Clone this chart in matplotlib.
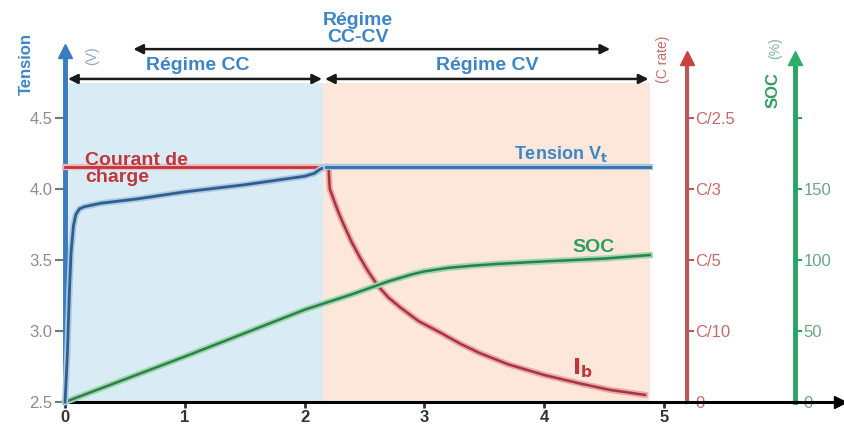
import numpy as np
import matplotlib.pyplot as plt
import matplotlib.patheffects as pe

plt.rcParams['font.family'] = ['Liberation Sans', 'DejaVu Sans']

# data (time axis, curves in "tension" units)
t_volt = [0, 0.02, 0.035, 0.05, 0.07, 0.09, 0.12, 0.16, 0.3, 0.6, 1.0, 1.5, 2.0, 2.08, 2.13, 2.18]
v_volt = [2.5, 2.85, 3.25, 3.55, 3.74, 3.82, 3.86, 3.875, 3.9, 3.93, 3.98, 4.03, 4.09, 4.11, 4.14, 4.155]
t_cv = [2.18, 4.88]
v_cv = [4.155, 4.155]

t_cc = [0, 2.2]
i_cc = [4.155, 4.155]
t_ib = [2.2, 2.205, 2.21, 2.24, 2.28, 2.32, 2.39, 2.46, 2.53, 2.61, 2.7, 2.8, 2.95,
        3.13, 3.3, 3.46, 3.7, 4.0, 4.3, 4.55, 4.84]
i_ib = [4.15, 4.06, 4.0, 3.93, 3.84, 3.76, 3.63, 3.52, 3.42, 3.32, 3.235, 3.165, 3.07,
        2.99, 2.91, 2.845, 2.765, 2.69, 2.63, 2.585, 2.55]

t_soc = [0, 1, 2, 2.4, 2.6, 2.7, 2.8, 2.9, 3.0, 3.2, 3.4, 3.6, 4.0, 4.5, 4.88]
soc = [2.5, 2.82, 3.15, 3.26, 3.32, 3.35, 3.375, 3.40, 3.42, 3.445, 3.46, 3.472, 3.49, 3.51, 3.535]

x_ticks = [0, 1, 2, 3, 4, 5]
v_ticks = [2.5, 3.0, 3.5, 4.0, 4.5]
v_labels = ['2.5', '3.0', '3.5', '4.0', '4.5']
c_labels = ['0', 'C/10', 'C/5', 'C/3', 'C/2.5']
soc_labels = ['0', '50', '100', '150', '']

t_switch = 2.15
t_end = 4.88

blue = '#3b7bbf'
blue_txt = '#3d86c6'
red = '#c0363c'
green = '#2e9e5e'

fig = plt.figure(figsize=(8.44, 4.28), dpi=100)
ax = fig.add_axes([0, 0, 1, 1])
ax.set_xlim(-0.543, 6.502)
ax.set_ylim(2.317, 5.331)

# regime backgrounds
ax.fill_between([0, t_switch], 2.5, 4.75, color='#d9ecf5', lw=0, zorder=0)
ax.fill_between([t_switch, t_end], 2.5, 4.75, color='#fde7da', lw=0, zorder=0)

halo = lambda c: [pe.Stroke(linewidth=4.5, foreground=c), pe.Normal()]
ax.plot(t_cc, i_cc, color=red, lw=2, zorder=3, path_effects=halo('#f0b8b8'))
ax.plot(t_ib, i_ib, color='#a8343c', lw=1.8, zorder=3, path_effects=halo('#e9a9aa'))
ax.plot(t_soc, soc, color='#2b8148', lw=1.8, zorder=3, path_effects=halo('#9fd6b0'))
ax.plot(t_volt, v_volt, color='#2e5e8e', lw=2, zorder=4, path_effects=halo('#a9c9e3'))
ax.plot(t_cv, v_cv, color='#3a6ea8', lw=2, zorder=4, path_effects=halo('#a9c9e3'))

# main axes as spines
for s in ['top', 'right']:
    ax.spines[s].set_visible(False)
ax.spines['left'].set_position(('data', 0))
ax.spines['left'].set_bounds(2.5, 4.95)
ax.spines['left'].set_color(blue)
ax.spines['left'].set_linewidth(3.5)
ax.spines['bottom'].set_position(('data', 2.5))
ax.spines['bottom'].set_bounds(0, 6.44)
ax.spines['bottom'].set_linewidth(2.2)
ax.plot(0, 4.97, '^', color=blue, ms=10, clip_on=False, zorder=5)
ax.plot(6.47, 2.5, '>', color='black', ms=8, clip_on=False, zorder=5)

ax.set_xticks(x_ticks)
ax.set_xticklabels([str(v) for v in x_ticks], fontsize=12, fontweight='bold', color='#333333')
ax.tick_params(axis='x', length=4, width=2, color='#333333', pad=2)
ax.set_yticks(v_ticks)
ax.set_yticklabels(v_labels, fontsize=12, color='#8c8c8c')
ax.tick_params(axis='y', length=7, width=1.5, color='#777777', pad=2)

# C rate axis and SOC axis
sec_c = ax.secondary_yaxis(0.814)
sec_c.spines['right'].set_bounds(2.5, 4.88)
sec_c.spines['right'].set_color('#b55a5a')
sec_c.spines['right'].set_linewidth(3)
sec_c.set_yticks(v_ticks)
sec_c.set_yticklabels(c_labels, fontsize=12, color='#c86a6a')
sec_c.tick_params(axis='y', length=5, width=1.5, color='#b55a5a', pad=1)
ax.plot(5.19, 4.92, '^', color='#c9423f', ms=10, clip_on=False, zorder=5)

sec_s = ax.secondary_yaxis(0.942)
sec_s.spines['right'].set_bounds(2.5, 4.88)
sec_s.spines['right'].set_color('#29a464')
sec_s.spines['right'].set_linewidth(3.5)
sec_s.set_yticks(v_ticks)
sec_s.set_yticklabels(soc_labels, fontsize=12, color='#6aa882')
sec_s.tick_params(axis='y', length=5, width=1.5, color='#29a464', pad=1)
ax.plot(6.09, 4.92, '^', color='#2cae66', ms=10, clip_on=False, zorder=5)

# regime arrows
arrow = dict(arrowstyle='<|-|>', color='#1a1a1a', lw=1.8, mutation_scale=14, shrinkA=0, shrinkB=0)
ax.annotate('', xy=(0.57, 4.985), xytext=(4.55, 4.985), arrowprops=arrow)
ax.annotate('', xy=(0.025, 4.775), xytext=(2.145, 4.775), arrowprops=arrow)
ax.annotate('', xy=(2.17, 4.775), xytext=(4.87, 4.775), arrowprops=arrow)

hdr = dict(color=blue_txt, fontsize=14, fontweight='bold', ha='center', va='center')
ax.text(2.446, 5.127, 'Régime\nCC-CV', linespacing=1.0, **hdr)
ax.text(1.11, 4.873, 'Régime CC', **hdr)
ax.text(3.52, 4.873, 'Régime CV', **hdr)

# labels
ax.text(-0.326, 4.88, 'Tension', rotation=90, color=blue_txt, fontsize=12,
        fontweight='bold', ha='center', va='center')
ax.text(0.225, 4.94, '(V)', rotation=90, color='#8fa6b8', fontsize=10, ha='center', va='center')
ax.text(4.99, 4.91, '(C rate)', rotation=90, color='#c96a6a', fontsize=10, ha='center', va='center')
ax.text(5.91, 4.70, 'SOC', rotation=90, color=green, fontsize=12,
        fontweight='bold', ha='center', va='center')
ax.text(5.93, 4.99, '(%)', rotation=90, color='#7fb894', fontsize=10, ha='center', va='center')

ax.text(0.167, 4.14, 'Courant de\ncharge', color=red, fontsize=14, fontweight='bold',
        ha='left', va='center', linespacing=0.95)
ax.text(4.53, 4.246, r'Tension V$_\mathbf{t}$', color=blue_txt, fontsize=13,
        fontweight='bold', ha='right', va='center')
ax.text(4.41, 3.59, 'SOC', color=green, fontsize=14, fontweight='bold', ha='center', va='center')
ax.text(4.32, 2.735, r'$\mathbf{I_b}$', color=red, fontsize=16, ha='center', va='center')

fig.savefig('out.png', dpi=100)
